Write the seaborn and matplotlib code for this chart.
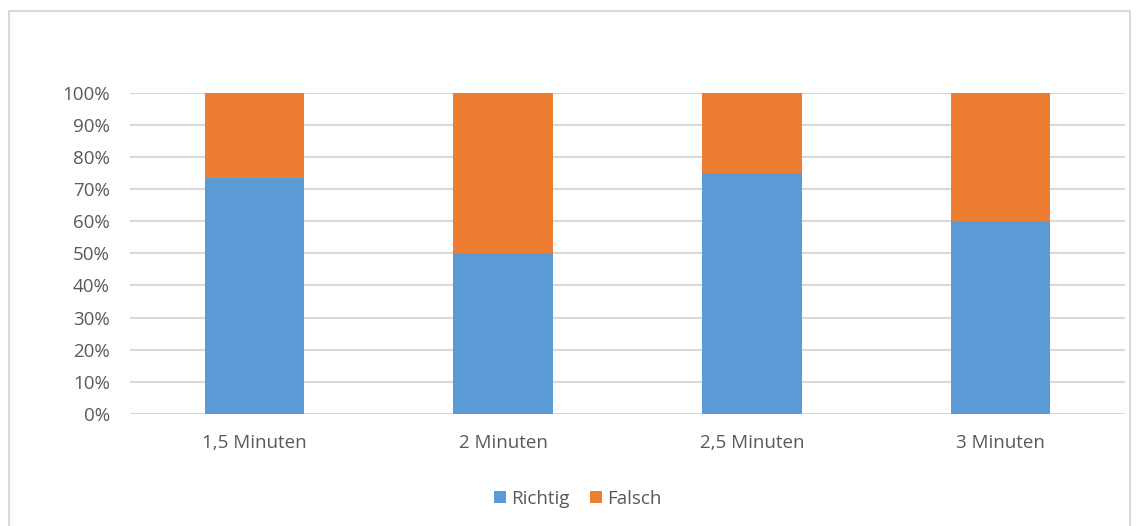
import matplotlib
matplotlib.use("Agg")
import matplotlib.pyplot as plt
import seaborn as sns
import numpy as np
from matplotlib.patches import Patch
from matplotlib.lines import Line2D

categories = ["1,5 Minuten", "2 Minuten", "2,5 Minuten", "3 Minuten"]
richtig = [73.5, 50.0, 75.0, 60.0]
falsch = [26.5, 50.0, 25.0, 40.0]
yticks = [0, 10, 20, 30, 40, 50, 60, 70, 80, 90, 100]

BLUE = "#5B9BD5"
ORANGE = "#ED7D31"
TXT = "#595959"
GRID = "#D9D9D9"

sns.set_theme(style="white")
plt.rcParams['font.family'] = ['Open Sans', 'DejaVu Sans']

W, H = 1138, 526
fig = plt.figure(figsize=(W / 100, H / 100), dpi=100)
ax = fig.add_axes([130 / W, 1 - 414 / H, (1125 - 130) / W, (414 - 92.5) / H])

total = [r + f for r, f in zip(richtig, falsch)]
sns.barplot(x=categories, y=total, color=ORANGE, width=0.4, saturation=1, ax=ax,
            zorder=3, linewidth=0, edgecolor="none")
sns.barplot(x=categories, y=richtig, color=BLUE, width=0.4, saturation=1, ax=ax,
            zorder=4, linewidth=0, edgecolor="none")

ax.set_ylim(0, 100)
ax.set_xlim(-0.5, 3.5)
ax.set_yticks(yticks)
ax.set_yticklabels([f"{t}%" for t in yticks])
for y in yticks:
    ax.axhline(y, color=GRID, lw=1.5, zorder=1)
for s in ax.spines.values():
    s.set_visible(False)
ax.tick_params(axis="both", length=0, colors=TXT, labelsize=13.5)
ax.tick_params(axis="y", pad=14.5)
ax.tick_params(axis="x", pad=14.5)
ax.set_xlabel("")
ax.set_ylabel("")
ax.grid(False)

handles = [Patch(facecolor=BLUE, edgecolor="none", label="Richtig"),
           Patch(facecolor=ORANGE, edgecolor="none", label="Falsch")]
leg = fig.legend(handles=handles, loc="center", bbox_to_anchor=(578 / W, 1 - 498.5 / H),
                 ncol=2, frameon=False, fontsize=13.5, handlelength=0.6, handleheight=0.6,
                 handletextpad=0.3, columnspacing=1.1)
for t in leg.get_texts():
    t.set_color(TXT)

# figure frame (top, left, right)
x0, x1, y0 = 8.5 / W, 1130 / W, 1 - 10.5 / H
fig.add_artist(Line2D([x0, x0, x1, x1], [0, y0, y0, 0], transform=fig.transFigure,
                      color="#D9D9D9", lw=1.5))

fig.savefig("out.png", dpi=100)
